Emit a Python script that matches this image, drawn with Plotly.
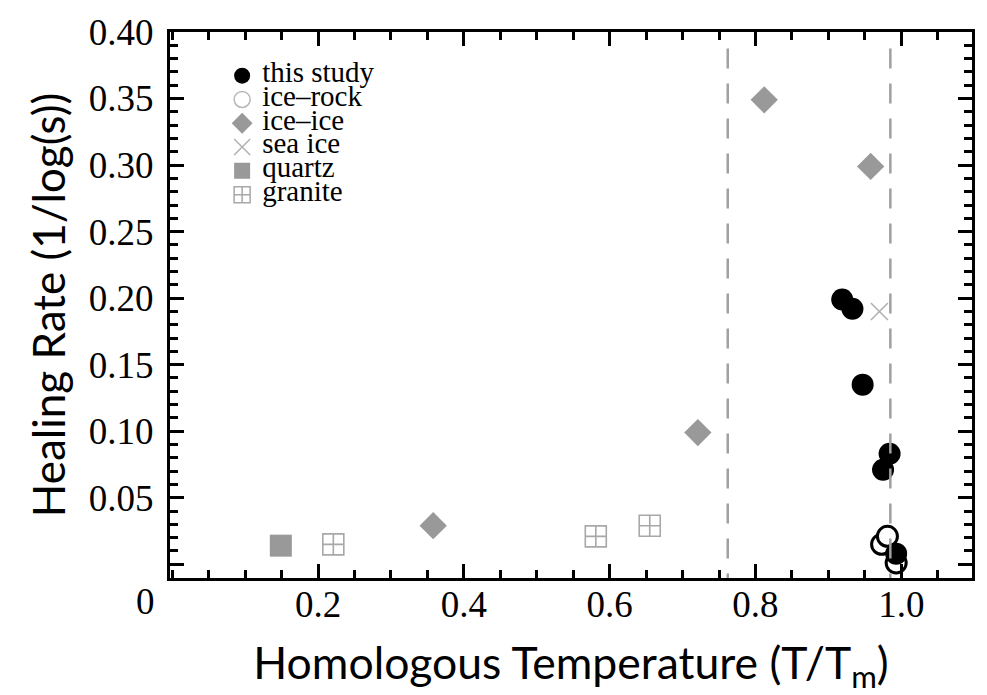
import plotly.graph_objects as go

# ---- data ----
study_x = [0.919, 0.933, 0.947, 0.984, 0.975, 0.993]
study_y = [0.199, 0.192, 0.135, 0.083, 0.071, 0.008]

icerock_x = [0.973, 0.981, 0.993]
icerock_y = [0.015, 0.021, 0.001]

iceice_x = [0.812, 0.958, 0.721, 0.358]
iceice_y = [0.349, 0.299, 0.099, 0.029]

seaice_x = [0.970]
seaice_y = [0.190]

quartz_x = [0.149]
quartz_y = [0.014]

granite_x = [0.221, 0.581, 0.655]
granite_y = [0.015, 0.021, 0.029]

dashed_x = [0.762, 0.985]

x_tick_vals = [0.2, 0.4, 0.6, 0.8, 1.0]
x_tick_text = ["0.2", "0.4", "0.6", "0.8", "1.0"]
y_tick_vals = [0.0, 0.05, 0.10, 0.15, 0.20, 0.25, 0.30, 0.35, 0.40]
y_tick_text = ["", "0.05", "0.10", "0.15", "0.20", "0.25", "0.30", "0.35", "0.40"]

legend_names = ["this study", "ice\u2013rock", "ice\u2013ice", "sea ice", "quartz", "granite"]

SERIF = "Liberation Serif, Times New Roman, serif"
SANS = "Lato, Open Sans, sans-serif"

fig = go.Figure()

# data traces (no legend)
fig.add_trace(go.Scatter(x=quartz_x, y=quartz_y, mode="markers", showlegend=False,
                         marker=dict(symbol="square", size=22, color="#999999", line=dict(width=0))))
fig.add_trace(go.Scatter(x=granite_x, y=granite_y, mode="markers", showlegend=False,
                         marker=dict(symbol="square-cross-open", size=21, color="#a8a8a8", line=dict(width=1.6, color="#a8a8a8"))))
fig.add_trace(go.Scatter(x=iceice_x, y=iceice_y, mode="markers", showlegend=False,
                         marker=dict(symbol="diamond", size=21, color="#999999", line=dict(width=0))))
fig.add_trace(go.Scatter(x=seaice_x, y=seaice_y, mode="markers", showlegend=False,
                         marker=dict(symbol="x-thin-open", size=17, color="#b0b0b0", line=dict(width=1.6, color="#b0b0b0"))))
fig.add_trace(go.Scatter(x=icerock_x, y=icerock_y, mode="markers", showlegend=False,
                         marker=dict(symbol="circle", size=20, color="white", line=dict(width=3, color="black"))))
fig.add_trace(go.Scatter(x=study_x, y=study_y, mode="markers", showlegend=False,
                         marker=dict(symbol="circle", size=22, color="black", line=dict(width=0))))

# legend-only entries (styled like the reference legend)
legend_styles = [
    dict(symbol="circle", size=16, color="black", line=dict(width=0)),
    dict(symbol="circle-open", size=16, color="#b8b8b8", line=dict(width=1.5, color="#b8b8b8")),
    dict(symbol="diamond", size=16, color="#999999", line=dict(width=0)),
    dict(symbol="x-thin-open", size=16, color="#b0b0b0", line=dict(width=1.5, color="#b0b0b0")),
    dict(symbol="square", size=16, color="#999999", line=dict(width=0)),
    dict(symbol="square-cross-open", size=16, color="#a8a8a8", line=dict(width=1.5, color="#a8a8a8")),
]
for name, st in zip(legend_names, legend_styles):
    fig.add_trace(go.Scatter(x=[None], y=[None], mode="markers", marker=st,
                             name='<span style="font-size:29px">' + name + '</span>'))

# dashed vertical reference lines
for xv in dashed_x:
    fig.add_shape(type="line", xref="x", yref="paper", x0=xv, x1=xv, y0=0.97, y1=0,
                  line=dict(color="#a0a0a0", width=2.5, dash="20px,15px"))

axis_common = dict(showline=True, linewidth=3, linecolor="black", mirror="ticks",
                   ticks="inside", tickcolor="black", tickwidth=2.5, ticklen=14,
                   showgrid=False, zeroline=False,
                   tickfont=dict(family=SERIF, size=37, color="black"))

fig.update_xaxes(range=[-0.003, 1.097], tickmode="array", tickvals=x_tick_vals, ticktext=x_tick_text,
                 ticklabelstandoff=-8,
                 minor=dict(tickmode="linear", tick0=0, dtick=0.05, ticks="inside", ticklen=8,
                            tickwidth=2.5, tickcolor="black"),
                 title=dict(text="Homologous Temperature (T/T<sub>m</sub>)",
                            font=dict(family=SANS, size=44.5, color="black"), standoff=26),
                 **axis_common)
fig.update_yaxes(range=[-0.0103, 0.4], tickmode="array", tickvals=y_tick_vals, ticktext=y_tick_text,
                 ticklabelstandoff=6,
                 minor=dict(tickmode="linear", tick0=0, dtick=0.01, ticks="inside", ticklen=8,
                            tickwidth=2.5, tickcolor="black"),
                 title=dict(text="Healing Rate (1/log(s))",
                            font=dict(family=SANS, size=44, color="black"), standoff=10),
                 **axis_common)

fig.add_annotation(x=0, y=0, xref="x", yref="paper", text="0", showarrow=False,
                   xanchor="center", yanchor="middle",
                   xshift=-27, yshift=-23, font=dict(family=SERIF, size=37, color="black"))

fig.update_layout(
    width=987, height=695,
    margin=dict(l=170, r=15, t=22, b=115),
    paper_bgcolor="white", plot_bgcolor="white",
    legend=dict(x=0.065, y=0.951, xanchor="left", yanchor="top", bgcolor="rgba(0,0,0,0)",
                font=dict(family=SERIF, size=16, color="black"), tracegroupgap=0, itemsizing="trace"),
)

fig.write_html("out.html")
